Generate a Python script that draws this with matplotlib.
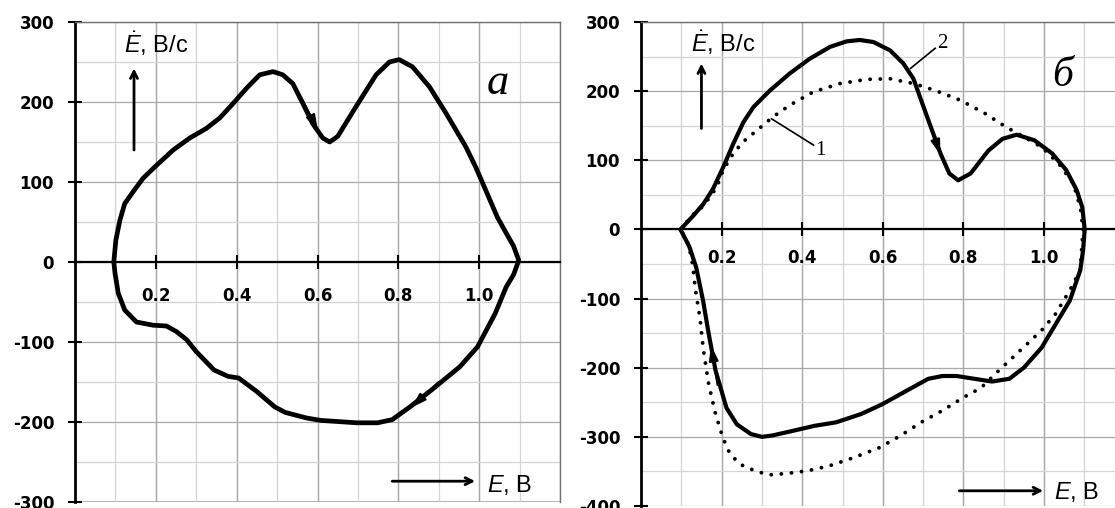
import matplotlib
matplotlib.use("Agg")
import matplotlib.pyplot as plt
from matplotlib.ticker import MultipleLocator, FixedLocator

plt.rcParams['mathtext.fontset'] = 'custom'
plt.rcParams['mathtext.it'] = 'Liberation Sans:italic'
plt.rcParams['mathtext.rm'] = 'Liberation Sans'

# ---------------- panel а data ----------------
E_a_top = [0.096, 0.101, 0.111, 0.123, 0.144, 0.169, 0.202, 0.243, 0.284, 0.325, 0.358, 0.391,
           0.424, 0.457, 0.490, 0.514, 0.539, 0.564, 0.588, 0.613, 0.630, 0.650, 0.695, 0.745,
           0.778, 0.802, 0.835, 0.877, 0.918, 0.967, 0.992, 1.016, 1.045, 1.067, 1.085, 1.098]
Ed_a_top = [0, 27, 52, 73, 88, 105, 121, 140, 155, 167, 180, 198,
            217, 234, 238, 234, 223, 198, 173, 155, 150, 157, 194, 234,
            250, 253, 244, 219, 186, 144, 118, 90, 56, 36, 20, 2]
E_a_bot = [1.098, 1.085, 1.067, 1.040, 0.996, 0.952, 0.882, 0.829, 0.785, 0.749, 0.697, 0.608,
           0.573, 0.520, 0.494, 0.450, 0.405, 0.379, 0.344, 0.300, 0.276, 0.251, 0.226, 0.193,
           0.152, 0.123, 0.107, 0.099, 0.096]
Ed_a_bot = [2, -16, -31, -64, -106, -131, -160, -181, -197, -201, -201, -198,
            -195, -188, -181, -162, -145, -143, -135, -112, -97, -87, -80, -79,
            -75, -60, -39, -14, 0]

# ---------------- panel б data ----------------
E_b2_top = [0.098, 0.130, 0.155, 0.179, 0.204, 0.229, 0.254, 0.279, 0.320, 0.370, 0.419, 0.469,
            0.510, 0.543, 0.577, 0.618, 0.651, 0.676, 0.692, 0.713, 0.743, 0.765, 0.787, 0.818,
            0.862, 0.897, 0.932, 0.976, 1.020, 1.055, 1.081, 1.095, 1.101]
Ed_b2_top = [0, 20, 37, 59, 90, 124, 155, 177, 201, 226, 247, 264,
             272, 274, 271, 259, 240, 218, 192, 158, 110, 81, 71, 81,
             114, 131, 137, 129, 110, 86, 57, 32, 0]
E_b2_bot = [1.101, 1.097, 1.090, 1.064, 1.029, 0.994, 0.950, 0.914, 0.871, 0.827, 0.783, 0.748,
            0.713, 0.660, 0.598, 0.546, 0.484, 0.431, 0.379, 0.326, 0.300, 0.273, 0.238, 0.212,
            0.185, 0.168, 0.154, 0.137, 0.120, 0.098]
Ed_b2_bot = [0, -30, -59, -103, -137, -171, -200, -216, -220, -216, -212, -212,
             -216, -233, -253, -267, -279, -284, -291, -298, -300, -296, -282, -258,
             -204, -151, -103, -55, -25, 0]

E_b1_top = [0.098, 0.130, 0.155, 0.188, 0.204, 0.229, 0.254, 0.287, 0.328, 0.370, 0.428, 0.494,
            0.560, 0.618, 0.659, 0.677, 0.730, 0.792, 0.853, 0.906, 0.950, 0.994, 1.037, 1.073,
            1.090, 1.097]
Ed_b1_top = [0, 22, 34, 61, 86, 110, 127, 143, 163, 180, 199, 211,
             217, 218, 213, 211, 201, 187, 168, 148, 134, 119, 95, 66,
             32, 0]
E_b1_bot = [1.097, 1.090, 1.064, 1.029, 0.994, 0.941, 0.888, 0.844, 0.800, 0.748, 0.695, 0.642,
            0.590, 0.528, 0.467, 0.414, 0.361, 0.317, 0.282, 0.247, 0.221, 0.203, 0.185, 0.168,
            0.155, 0.146, 0.135, 0.128, 0.118, 0.098]
Ed_b1_bot = [0, -59, -88, -122, -146, -175, -204, -229, -243, -262, -279, -299,
             -316, -330, -342, -349, -353, -355, -349, -340, -325, -301, -267, -224,
             -175, -127, -87, -50, -22, 0]

x_tick_vals = [0.2, 0.4, 0.6, 0.8, 1.0]
x_tick_labels = ['0.2', '0.4', '0.6', '0.8', '1.0']
y_ticks_a = [300, 200, 100, 0, -100, -200, -300]
y_ticks_b = [300, 200, 100, 0, -100, -200, -300, -400]

W, H = 1115, 508
fig = plt.figure(figsize=(W / 100, H / 100), dpi=100)

def px_axes(x0, x1, ytop, ybot):
    return fig.add_axes([x0 / W, 1 - ybot / H, (x1 - x0) / W, (ybot - ytop) / H])

ax1 = px_axes(75, 560, 22, 502)
ax2 = px_axes(641, 641 + 1.2 * 403, 22, 506)

def style(ax, ylim, yticks, xpad):
    ax.set_xlim(0, 1.2)
    ax.set_ylim(*ylim)
    ax.xaxis.set_major_locator(FixedLocator(x_tick_vals))
    ax.set_xticklabels(x_tick_labels)
    ax.xaxis.set_minor_locator(MultipleLocator(0.1))
    ax.yaxis.set_major_locator(FixedLocator(yticks))
    ax.yaxis.set_minor_locator(MultipleLocator(50))
    ax.set_yticklabels([str(v) for v in yticks])
    ax.grid(True, which='major', color='#a8a8a8', lw=0.9, zorder=0)
    ax.grid(True, which='minor', color='#d4d4d4', lw=0.9, zorder=0)
    for xv in [0.2 * k for k in range(1, 7)]:
        ax.axvline(xv, color='#a8a8a8', lw=0.9, zorder=0)
    ax.spines['bottom'].set_position(('data', 0))
    ax.spines['bottom'].set_linewidth(1.6)
    ax.spines['bottom'].set_color('black')
    ax.spines['left'].set_linewidth(2.0)
    ax.spines['left'].set_color('black')
    ax.spines['top'].set_color('#707070')
    ax.spines['top'].set_linewidth(1.0)
    ax.spines['right'].set_color('#707070')
    ax.spines['right'].set_linewidth(1.0)
    ax.tick_params(axis='both', which='major', direction='inout', length=10, width=1.5,
                   colors='black')
    ax.tick_params(axis='both', which='minor', length=0)
    ax.tick_params(axis='y', pad=10, labelsize=12)
    ax.tick_params(axis='x', pad=xpad, labelsize=12)
    for lab in ax.get_xticklabels() + ax.get_yticklabels():
        lab.set_fontweight('bold')
        lab.set_fontfamily('DejaVu Sans')
    ax.set_facecolor('white')

style(ax1, (-300, 300), y_ticks_a, 13)
style(ax2, (-400, 300), y_ticks_b, 9)
ax1.axhline(-300, color='#a8a8a8', lw=1.2, zorder=0)

# ---------- panel а curves ----------
ax1.plot(E_a_top, Ed_a_top, color='black', lw=3.4, solid_joinstyle='round',
         solid_capstyle='round', zorder=3)
ax1.plot(E_a_bot, Ed_a_bot, color='black', lw=3.4, solid_joinstyle='round',
         solid_capstyle='round', zorder=3)

arrow_kw = dict(arrowstyle='-|>,head_length=0.9,head_width=0.28', color='black', lw=1.5,
                shrinkA=0, shrinkB=0)
ax1.annotate('', xy=(0.601, 165), xytext=(0.560, 205), arrowprops=arrow_kw, zorder=4)
ax1.annotate('', xy=(0.832, -182), xytext=(0.900, -150), arrowprops=arrow_kw, zorder=4)

lab_font = dict(family='Liberation Sans', size=17)
up_kw = dict(arrowstyle='->,head_length=0.5,head_width=0.25', lw=2, color='black',
             shrinkA=0, shrinkB=0)
ax1.text(0.121, 261, r'$\dot{E}$, В/с', ha='left', va='baseline', **lab_font)
ax1.annotate('', xy=(0.146, 242), xytext=(0.146, 140), arrowprops=up_kw)
ax1.annotate('', xy=(0.99, -274), xytext=(0.785, -274), arrowprops=up_kw)
ax1.text(1.02, -287, r'$E$, В', ha='left', va='baseline', **lab_font)
ax1.text(1.047, 224, 'а', ha='center', va='center', family='Liberation Serif', style='italic',
         size=32)

# ---------- panel б curves ----------
dot_style = dict(color='black', lw=2.8, linestyle=(0, (0.01, 2.6)), dash_capstyle='round',
                 zorder=3)
ax2.plot(E_b1_top, Ed_b1_top, **dot_style)
ax2.plot(E_b1_bot, Ed_b1_bot, **dot_style)
ax2.plot(E_b2_top, Ed_b2_top, color='black', lw=3.0, solid_joinstyle='round',
         solid_capstyle='round', zorder=4)
ax2.plot(E_b2_bot, Ed_b2_bot, color='black', lw=3.0, solid_joinstyle='round',
         solid_capstyle='round', zorder=4)

ax2.annotate('', xy=(0.743, 108), xytext=(0.716, 155), arrowprops=arrow_kw, zorder=5)
ax2.annotate('', xy=(0.174, -168), xytext=(0.190, -225), arrowprops=arrow_kw, zorder=5)

ax2.plot([0.324, 0.428], [160, 122], color='black', lw=1.2, zorder=5)
ax2.text(0.433, 114, '1', ha='left', va='center', family='Liberation Serif', size=15)
ax2.plot([0.669, 0.730], [233, 262], color='black', lw=1.2, zorder=5)
ax2.text(0.735, 269, '2', ha='left', va='center', family='Liberation Serif', size=15)

ax2.text(0.124, 257, r'$\dot{E}$, В/с', ha='left', va='baseline', **lab_font)
ax2.annotate('', xy=(0.150, 240), xytext=(0.150, 146), arrowprops=up_kw)
ax2.annotate('', xy=(0.998, -378), xytext=(0.79, -378), arrowprops=up_kw)
ax2.text(1.025, -390, r'$E$, В', ha='left', va='baseline', **lab_font)
ax2.text(1.045, 222, 'б', ha='center', va='center', family='Liberation Serif', style='italic',
         size=30)

for ax in (ax1, ax2):
    for t in ax.texts:
        t.set_clip_on(False)

fig.savefig('out.png', dpi=100, facecolor='white')
